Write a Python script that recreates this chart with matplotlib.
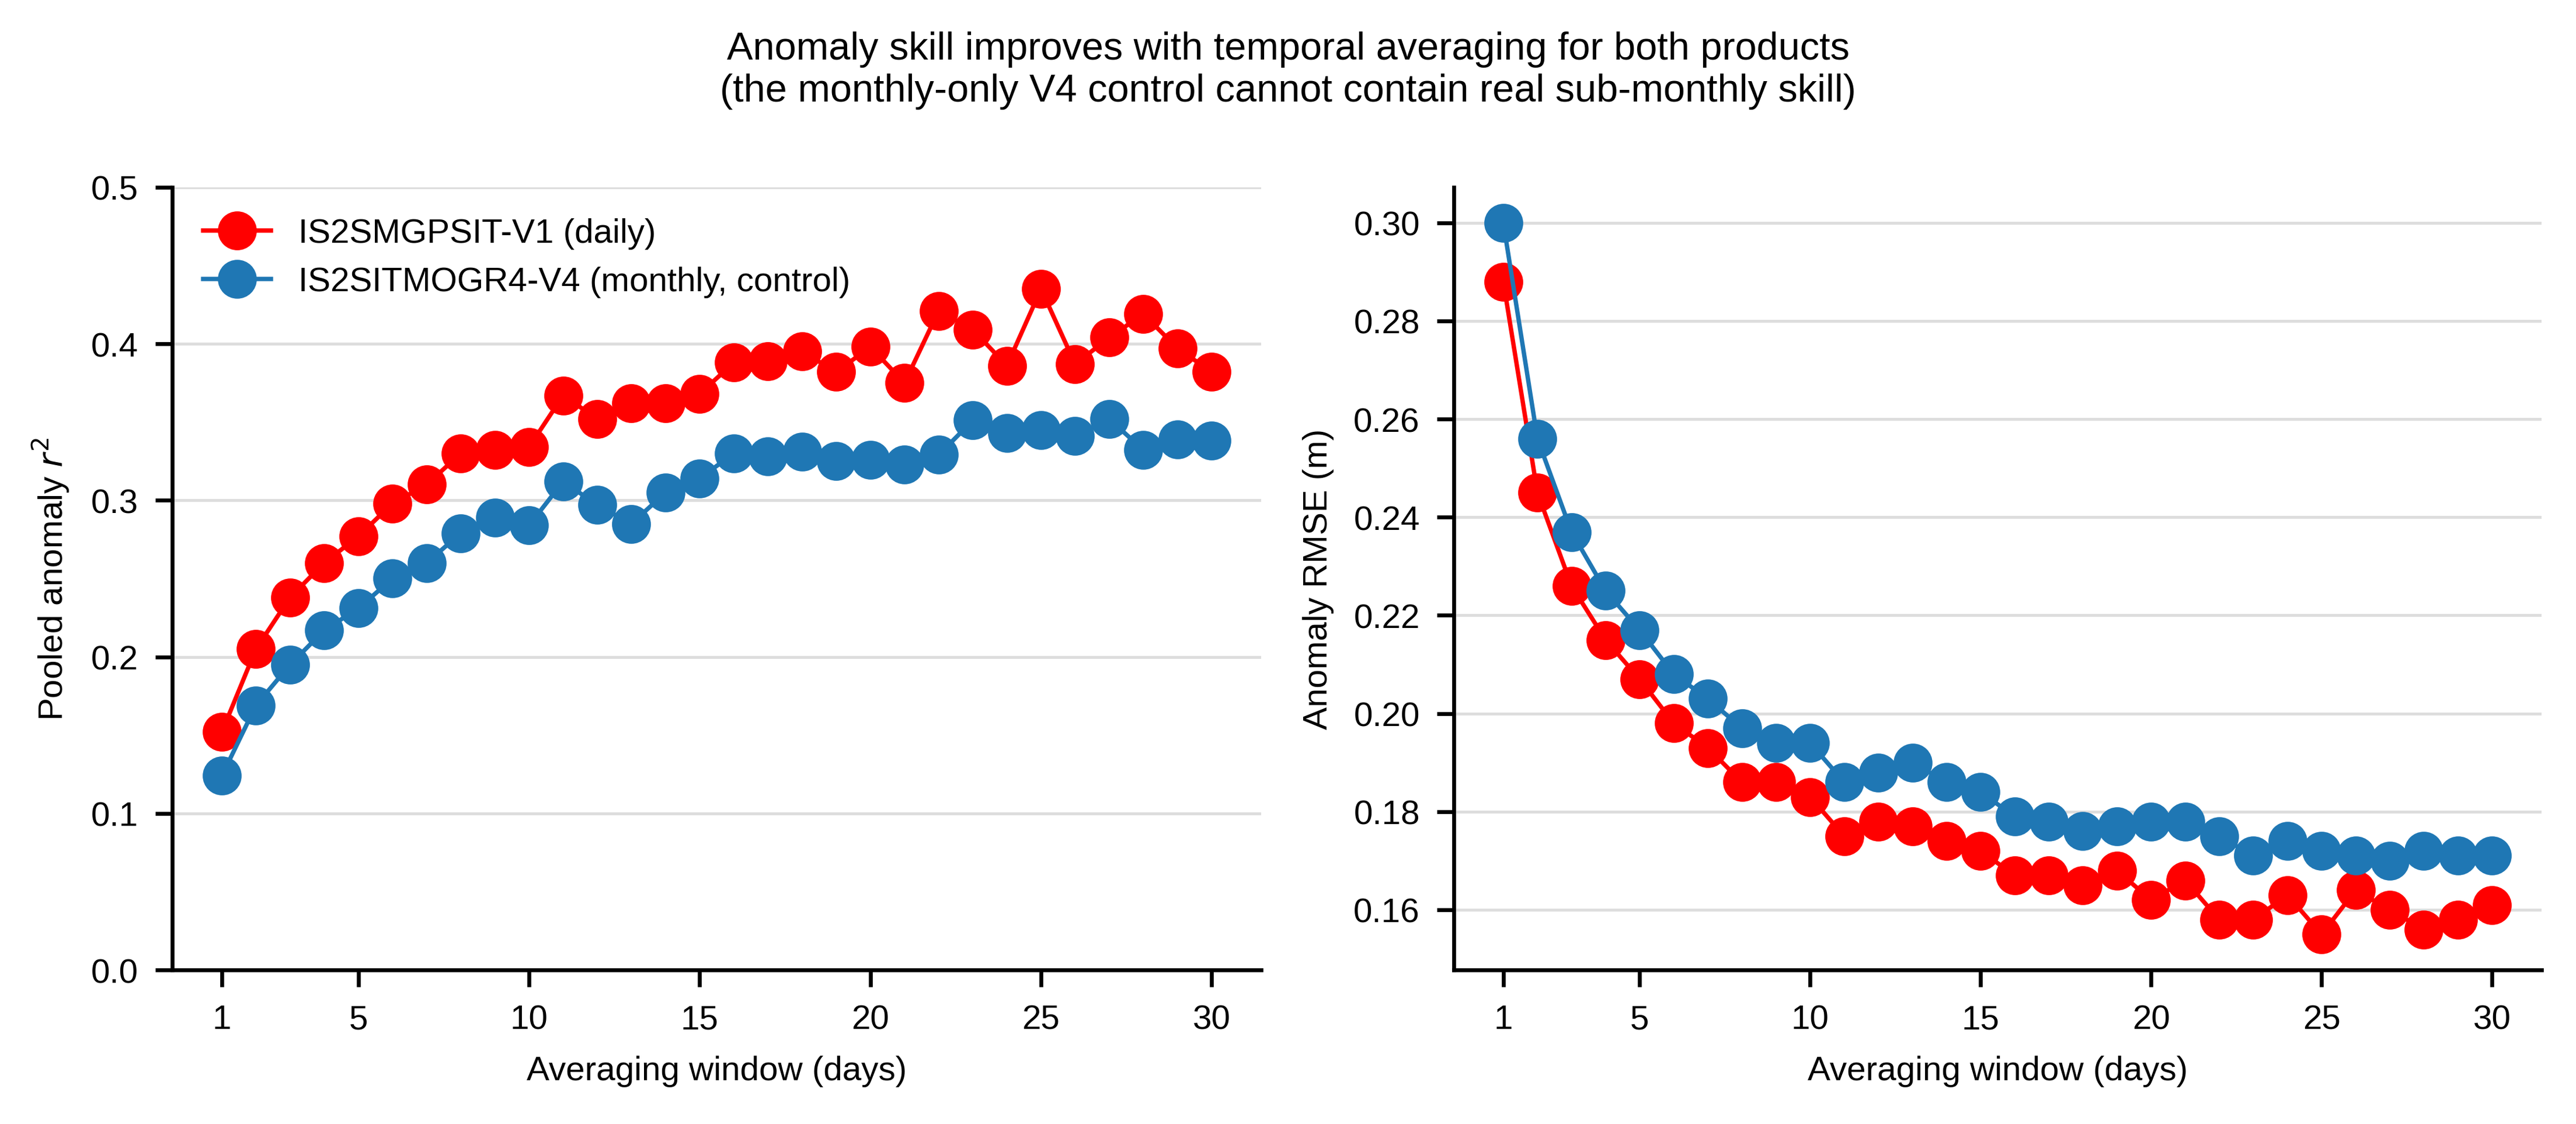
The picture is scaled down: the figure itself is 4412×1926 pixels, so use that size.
import numpy as np
import matplotlib
matplotlib.use("Agg")
import matplotlib.pyplot as plt

plt.rcParams['font.family'] = ['Liberation Sans', 'DejaVu Sans']

# averaging windows (days)
windows = np.arange(1, 31)

# pooled anomaly r^2
r2_daily = [0.152, 0.205, 0.238, 0.260, 0.277, 0.298, 0.310, 0.330, 0.332, 0.334,
            0.367, 0.352, 0.362, 0.362, 0.368, 0.388, 0.389, 0.395, 0.382, 0.398,
            0.375, 0.421, 0.409, 0.386, 0.435, 0.387, 0.404, 0.419, 0.397, 0.382]
r2_monthly = [0.124, 0.169, 0.195, 0.217, 0.231, 0.250, 0.260, 0.279, 0.289, 0.284,
              0.312, 0.297, 0.285, 0.305, 0.314, 0.330, 0.328, 0.331, 0.325, 0.326,
              0.323, 0.329, 0.351, 0.343, 0.345, 0.341, 0.352, 0.332, 0.339, 0.338]

# anomaly RMSE (m)
rmse_daily = [0.288, 0.245, 0.226, 0.215, 0.207, 0.198, 0.193, 0.186, 0.186, 0.183,
              0.175, 0.178, 0.177, 0.174, 0.172, 0.167, 0.167, 0.165, 0.168, 0.162,
              0.166, 0.158, 0.158, 0.163, 0.155, 0.164, 0.160, 0.156, 0.158, 0.161]
rmse_monthly = [0.300, 0.256, 0.237, 0.225, 0.217, 0.208, 0.203, 0.197, 0.194, 0.194,
                0.186, 0.188, 0.190, 0.186, 0.184, 0.179, 0.178, 0.176, 0.177, 0.178,
                0.178, 0.175, 0.171, 0.174, 0.172, 0.171, 0.170, 0.172, 0.171, 0.171]

label_daily = 'IS2SMGPSIT-V1 (daily)'
label_monthly = 'IS2SITMOGR4-V4 (monthly, control)'
xticks = [1, 5, 10, 15, 20, 25, 30]

fig = plt.figure(figsize=(4412 / 600, 1927 / 600), dpi=600)
ax1 = fig.add_axes([0.0669, 0.137, 0.4227, 0.696])
ax2 = fig.add_axes([0.5644, 0.137, 0.4222, 0.696])

style = dict(marker='o', markersize=7, linewidth=0.9)

ax1.plot(windows, r2_daily, color='red', label=label_daily, **style)
ax1.plot(windows, r2_monthly, color='#1f77b4', label=label_monthly, **style)
ax1.set_ylim(0, 0.5)
ax1.set_ylabel('Pooled anomaly $r^2$', fontsize=7)
ax1.legend(loc='upper left', frameon=False, fontsize=7)

ax2.plot(windows, rmse_daily, color='red', **style)
ax2.plot(windows, rmse_monthly, color='#1f77b4', **style)
ax2.set_ylabel('Anomaly RMSE (m)', fontsize=7)

for ax in (ax1, ax2):
    ax.set_xticks(xticks)
    ax.set_xlabel('Averaging window (days)', fontsize=7)
    ax.tick_params(labelsize=7, width=0.8, length=3.5)
    ax.grid(axis='y', color='#dddddd', linewidth=0.6)
    ax.set_axisbelow(True)
    for s in ('top', 'right'):
        ax.spines[s].set_visible(False)
    for s in ('left', 'bottom'):
        ax.spines[s].set_linewidth(0.8)

fig.suptitle('Anomaly skill improves with temporal averaging for both products\n'
             '(the monthly-only V4 control cannot contain real sub-monthly skill)',
             fontsize=8, y=0.972, va='top')

fig.savefig('out.png', dpi=600)
